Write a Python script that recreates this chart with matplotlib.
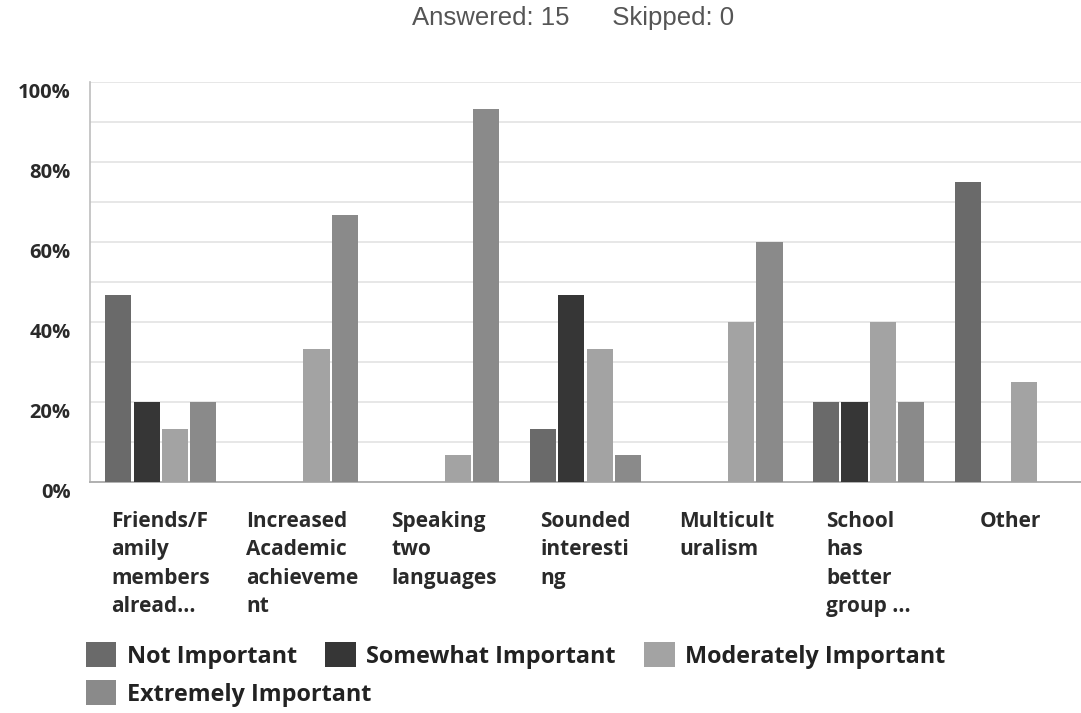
import matplotlib
matplotlib.use("Agg")
import matplotlib.pyplot as plt
import matplotlib.transforms as mtransforms
from matplotlib.patches import Patch
import numpy as np

categories = [
    "Friends/F\namily\nmembers\nalread...",
    "Increased\nAcademic\nachieveme\nnt",
    "Speaking\ntwo\nlanguages",
    "Sounded\ninteresti\nng",
    "Multicult\nuralism",
    "School\nhas\nbetter\ngroup ...",
    "Other",
]
series_names = ["Not Important", "Somewhat Important", "Moderately Important", "Extremely Important"]
not_important = [46.67, 0, 0, 13.33, 0, 20, 75]
somewhat_important = [20, 0, 0, 46.67, 0, 20, 0]
moderately_important = [13.33, 33.33, 6.67, 33.33, 40, 40, 25]
extremely_important = [20, 66.67, 93.33, 6.67, 60, 20, 0]
y_ticks = [0, 20, 40, 60, 80, 100]
y_tick_labels = ["0%", "20%", "40%", "60%", "80%", "100%"]
title_text = "Answered: 15      Skipped: 0"

colors = ["#6a6a6a", "#363636", "#a3a3a3", "#8a8a8a"]
series = [not_important, somewhat_important, moderately_important, extremely_important]

FONT = "Open Sans"
W, H = 1081, 713
fig = plt.figure(figsize=(W / 100, H / 100), dpi=100)
ax = fig.add_axes([90 / W, 1 - 482 / H, (W - 90) / W, 400 / H])

x = np.arange(len(categories))
offsets = [-0.3, -0.1, 0.1, 0.3]
bw = 0.185
for vals, off, c, name in zip(series, offsets, colors, series_names):
    ax.bar(x + off, vals, width=bw, color=c, linewidth=0, label=name, zorder=3)

ax.set_xlim(-0.5, len(categories) - 0.5)
ax.set_ylim(0, 100)
ax.set_yticks(y_ticks)
ax.set_yticklabels(y_tick_labels, fontfamily=FONT, fontweight="bold", fontsize=14.5, color="#2a2a2a")
ax.set_yticks(np.arange(10, 100, 10), minor=True)
ax.yaxis.grid(True, which="both", color="#e3e3e3", linewidth=1.2, zorder=0)
ax.tick_params(axis="y", which="both", length=0, pad=14)
offset = mtransforms.ScaledTranslation(0, -9 / 100, fig.dpi_scale_trans)
for lab in ax.get_yticklabels():
    lab.set_transform(lab.get_transform() + offset)

ax.set_xticks(x)
ax.set_xticklabels(categories, fontfamily=FONT, fontweight="bold", fontsize=15,
                   color="#2a2a2a", ha="center", va="top", multialignment="left", linespacing=1.45)
ax.tick_params(axis="x", length=0, pad=21)

for s in ["top", "right"]:
    ax.spines[s].set_visible(False)
ax.spines["left"].set_color("#bdbdbd")
ax.spines["left"].set_linewidth(1.2)
ax.spines["bottom"].set_color("#b0b0b0")
ax.spines["bottom"].set_linewidth(1.4)
ax.set_axisbelow(True)

fig.text(573 / W, 1 - 18 / H, title_text, ha="center", va="center",
         fontfamily="Liberation Sans", fontsize=18.5, color="#555555")

handles = [Patch(facecolor=c, edgecolor="none") for c in colors]
leg_kw = dict(frameon=False, prop={"family": FONT, "weight": "bold", "size": 16.8},
              handlelength=1.3, handleheight=1.3, handletextpad=0.45,
              columnspacing=1.22, borderpad=0, borderaxespad=0, loc="upper left")
leg1 = fig.legend(handles[:3], series_names[:3], ncol=3,
                  bbox_to_anchor=(86 / W, 1 - 642 / H), **leg_kw)
for t in leg1.get_texts():
    t.set_color("#222222")
leg2 = fig.legend(handles[3:], series_names[3:], ncol=1,
                  bbox_to_anchor=(86 / W, 1 - 680 / H), **leg_kw)
for t in leg2.get_texts():
    t.set_color("#222222")

fig.savefig("out.png", dpi=100)
